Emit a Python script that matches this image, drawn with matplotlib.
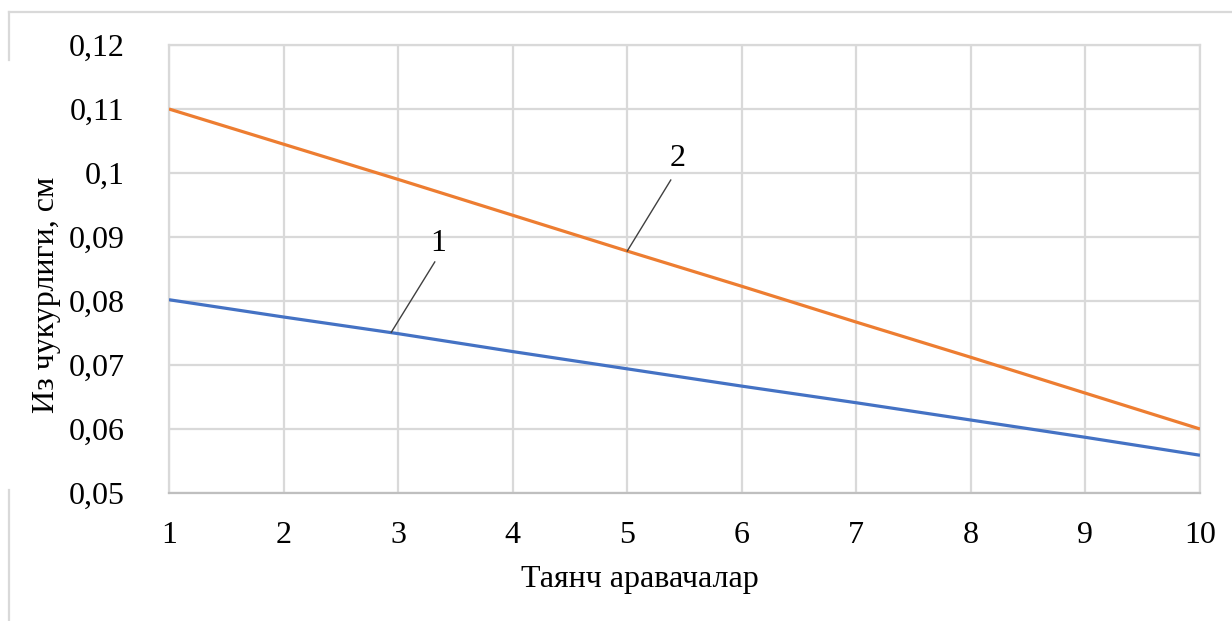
import matplotlib
matplotlib.use("Agg")
import matplotlib.pyplot as plt
from matplotlib.lines import Line2D

# Support-roller data: rut depth for two variants
x_vals = [1, 2, 3, 4, 5, 6, 7, 8, 9, 10]
series_1 = [0.0802, 0.0775, 0.0749, 0.0721, 0.0694, 0.0667, 0.0641, 0.0614, 0.0587, 0.0559]
series_2 = [0.1100, 0.1045, 0.0990, 0.0934, 0.0878, 0.0823, 0.0767, 0.0712, 0.0656, 0.0600]
y_ticks = [0.05, 0.06, 0.07, 0.08, 0.09, 0.10, 0.11, 0.12]
y_tick_labels = ["0,05", "0,06", "0,07", "0,08", "0,09", "0,1", "0,11", "0,12"]
x_label = "Таянч аравачалар"
y_label = "Из чукурлиги, см"

plt.rcParams["font.family"] = ["Liberation Serif", "DejaVu Serif"]

fig = plt.figure(figsize=(12.32, 6.21), dpi=100)
W, H = 1232, 621
ax = fig.add_axes([169 / W, 1 - 493 / H, (1200 - 169) / W, (493 - 45) / H])

grid_c = "#D9D9D9"
ax.plot(x_vals, series_1, color="#4472C4", lw=2.3, solid_capstyle="butt", zorder=3)
ax.plot(x_vals, series_2, color="#ED7D31", lw=2.3, solid_capstyle="butt", zorder=3)

ax.set_xlim(1, 10)
ax.set_ylim(0.05, 0.12)
ax.set_xticks(x_vals)
ax.set_xticklabels([str(v) for v in x_vals])
ax.set_yticks(y_ticks)
ax.set_yticklabels(y_tick_labels)
ax.tick_params(axis="both", length=0, labelsize=23, colors="black")
ax.tick_params(axis="y", pad=32)
ax.tick_params(axis="x", pad=20)
ax.grid(True, color=grid_c, lw=1.6)
ax.set_axisbelow(True)
for s in ax.spines.values():
    s.set_color(grid_c)
    s.set_linewidth(1.6)
ax.spines["bottom"].set_color("#BFBFBF")

# Axis titles placed in figure pixels
fig.text(640 / W, 1 - 579 / H, x_label, fontsize=23, ha="center", va="center")
fig.text(47 / W, 1 - 295 / H, y_label, fontsize=23, ha="center", va="center",
         rotation=90)

# Callout labels for the two curves
i1 = x_vals.index(3)
i2 = x_vals.index(5)
ax.plot([2.94, 3.32], [series_1[i1] + 0.0002, 0.0861], color="#404040", lw=1.0, zorder=4)
ax.text(3.35, 0.0890, "1", fontsize=23, ha="center", va="center")
ax.plot([5.0, 5.38], [series_2[i2], 0.0989], color="#404040", lw=1.0, zorder=4)
ax.text(5.44, 0.1023, "2", fontsize=23, ha="center", va="center")

# Outer chart frame pieces
fig.add_artist(Line2D([9 / W, 1.0], [1 - 12 / H] * 2, color="#D9D9D9", lw=1.6))
fig.add_artist(Line2D([9 / W] * 2, [1 - 12 / H, 1 - 60 / H], color="#D9D9D9", lw=1.6))
fig.add_artist(Line2D([9 / W] * 2, [1 - 490 / H, 0.0], color="#D9D9D9", lw=1.6))

fig.savefig("out.png", dpi=100)
